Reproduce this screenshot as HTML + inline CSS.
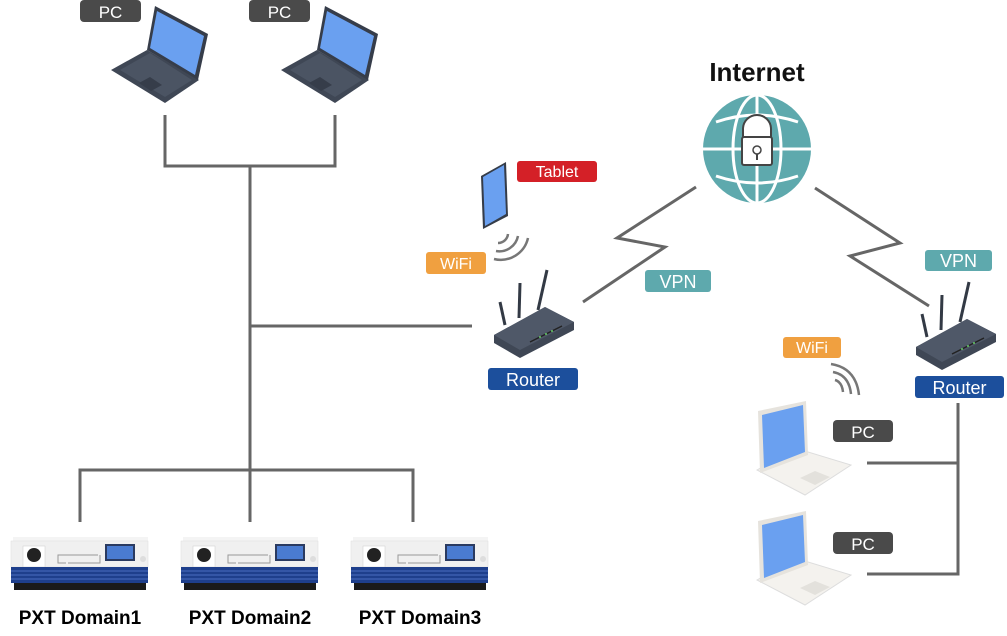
<!DOCTYPE html>
<html><head><meta charset="utf-8"><style>
html,body{margin:0;padding:0;background:#fff;width:1007px;height:636px;overflow:hidden}
svg{display:block}
text{font-family:"Liberation Sans",Arial,sans-serif}
</style></head><body>
<svg width="1007" height="636" viewBox="0 0 1007 636" xmlns="http://www.w3.org/2000/svg">
<defs>
<g id="dlap">
  <path d="M147,50 L111,70 L165,103 L199,80 Z" fill="#3f4755"/>
  <path d="M150,53 L120,70 L165,97 L192,80 Z" fill="#4b5463"/>
  <path d="M155,6 L208,34 L198,80 L147,50 Z" fill="#363d4a"/>
  <path d="M157,11 L204,36 L195,75 L150,48 Z" fill="#6aa0f0"/>
  <path d="M139,83 L150,77 L162,85 L151,91 Z" fill="#363d4a"/>
</g>
<g id="wlap">
  <path d="M757,470 L795,448 L851,465 L805,495 Z" fill="#f4f2ee" stroke="#ddd" stroke-width="1"/>
  <path d="M758,411 L806,401 L808,455 L760,473 Z" fill="#e6e3dd"/>
  <path d="M762,415 L803,405 L805,452 L764,468 Z" fill="#6aa0f0"/>
  <path d="M800,478 L815,471 L830,477 L815,485 Z" fill="#e3e1dc"/>
</g>
<g id="pxt">
  <rect x="13" y="537" width="135" height="6" fill="#f4f4f4"/>
  <rect x="11" y="541" width="137" height="26" fill="#f0f0f0" stroke="#ddd" stroke-width="0.5"/>
  <rect x="23" y="546" width="22" height="21" fill="#fff" stroke="#ccc" stroke-width="0.5"/>
  <circle cx="34" cy="555" r="7" fill="#222"/>
  <rect x="58" y="555" width="42" height="8" fill="none" stroke="#999" stroke-width="1" stroke-dasharray="40 2"/>
  <rect x="105" y="544" width="30" height="17" fill="#2a3a60"/>
  <rect x="107" y="546" width="26" height="13" fill="#4a7bd0"/>
  <circle cx="143" cy="559" r="3" fill="#ddd"/>
  <rect x="11" y="567" width="137" height="16" fill="#1e3f8c"/>
  <line x1="11" y1="571" x2="148" y2="571" stroke="#4a6cc0" stroke-width="1"/>
  <line x1="11" y1="575" x2="148" y2="575" stroke="#4a6cc0" stroke-width="1"/>
  <line x1="11" y1="579" x2="148" y2="579" stroke="#4a6cc0" stroke-width="1"/>
  <rect x="14" y="583" width="132" height="7" fill="#1a1a1a"/>
</g>
<g id="router">
  <line x1="500" y1="302" x2="505" y2="325" stroke="#333a45" stroke-width="3"/>
  <line x1="520" y1="283" x2="519" y2="318" stroke="#333a45" stroke-width="3"/>
  <line x1="547" y1="270" x2="538" y2="310" stroke="#333a45" stroke-width="3"/>
  <path d="M494,335 L545,307 L574,322 L574,330 L520,358 L494,343 Z" fill="#3f4755"/>
  <path d="M494,335 L545,307 L574,322 L520,350 Z" fill="#4f5868"/>
  <line x1="530" y1="342" x2="562" y2="326" stroke="#222" stroke-width="1.5"/>
  <circle cx="540" cy="337" r="1" fill="#6c6"/><circle cx="546" cy="334" r="1" fill="#6c6"/><circle cx="552" cy="331" r="1" fill="#6c6"/>
</g>
</defs>

<g stroke="#666" stroke-width="3" fill="none">
  <path d="M165,115 V166 H335 V115"/>
  <path d="M250,166 V470"/>
  <path d="M250,326 H472"/>
  <path d="M80,522 V470 H413 V522"/>
  <path d="M250,470 V522"/>
  <path d="M583,302 L665,247 L617,238 L696,187"/>
  <path d="M815,188 L900,243 L850,256 L929,306"/>
  <path d="M958,403 V574 H867"/>
  <path d="M867,463 H958"/>
</g>

<use href="#dlap"/>
<use href="#dlap" x="170"/>
<rect x="80" y="0" width="61" height="22" rx="4" fill="#4a4a4a"/>
<text x="110.5" y="18" font-size="17" fill="#fff" text-anchor="middle">PC</text>
<rect x="249" y="0" width="61" height="22" rx="4" fill="#4a4a4a"/>
<text x="279.5" y="18" font-size="17" fill="#fff" text-anchor="middle">PC</text>

<use href="#pxt"/>
<use href="#pxt" x="170"/>
<use href="#pxt" x="340"/>
<text x="80" y="624" font-size="19" font-weight="bold" fill="#000" text-anchor="middle">PXT Domain1</text>
<text x="250" y="624" font-size="19" font-weight="bold" fill="#000" text-anchor="middle">PXT Domain2</text>
<text x="420" y="624" font-size="19" font-weight="bold" fill="#000" text-anchor="middle">PXT Domain3</text>

<!-- tablet -->
<path d="M481,176 L506,162 L508,216 L483,229 Z" fill="#353c48"/>
<path d="M483,177 L504,165 L506,214 L485,226 Z" fill="#6aa0f0"/>
<rect x="517" y="161" width="80" height="21" rx="3" fill="#d42027"/>
<text x="557" y="177" font-size="16" fill="#fff" text-anchor="middle">Tablet</text>
<g stroke="#777" stroke-width="2.5" fill="none">
  <path d="M498,243 A10,10 0 0 0 508,234"/>
  <path d="M496,251 A19,19 0 0 0 518,236"/>
  <path d="M494,259 A28,28 0 0 0 528,238"/>
</g>
<rect x="426" y="252" width="60" height="22" rx="3" fill="#f0a040"/>
<text x="456" y="269" font-size="16" fill="#fff" text-anchor="middle">WiFi</text>

<use href="#router"/>
<rect x="488" y="368" width="90" height="22" rx="3" fill="#1c4f9c"/>
<text x="533" y="386" font-size="18" fill="#fff" text-anchor="middle">Router</text>
<rect x="645" y="270" width="66" height="22" rx="3" fill="#5ea9ad"/>
<text x="678" y="288" font-size="18" fill="#fff" text-anchor="middle">VPN</text>

<!-- internet -->
<text x="757" y="81" font-size="26" font-weight="bold" fill="#111" text-anchor="middle">Internet</text>
<circle cx="757" cy="149" r="54" fill="#5ea9ad"/>
<g stroke="#fff" stroke-width="3" fill="none">
  <ellipse cx="757" cy="149" rx="24" ry="54"/>
  <line x1="757" y1="95" x2="757" y2="203"/>
  <line x1="703" y1="149" x2="811" y2="149"/>
  <path d="M716,122 Q757,108 798,122"/>
  <path d="M716,176 Q757,190 798,176"/>
</g>
<path d="M743,138 V129 a14,14 0 0 1 28,0 V138" fill="#fff" stroke="#444" stroke-width="2"/>
<rect x="742" y="137" width="30" height="28" rx="2" fill="#fff" stroke="#444" stroke-width="2"/>
<circle cx="757" cy="150" r="4" fill="none" stroke="#444" stroke-width="1.5"/>
<line x1="757" y1="154" x2="757" y2="160" stroke="#444" stroke-width="2"/>

<rect x="925" y="250" width="67" height="21" rx="3" fill="#5ea9ad"/>
<text x="958.5" y="267" font-size="18" fill="#fff" text-anchor="middle">VPN</text>
<use href="#router" x="422" y="12"/>
<rect x="915" y="376" width="89" height="22" rx="3" fill="#1c4f9c"/>
<text x="959.5" y="394" font-size="18" fill="#fff" text-anchor="middle">Router</text>

<rect x="783" y="337" width="58" height="21" rx="3" fill="#f0a040"/>
<text x="812" y="353" font-size="16" fill="#fff" text-anchor="middle">WiFi</text>
<g stroke="#777" stroke-width="2.5" fill="none">
  <path d="M835,380 Q842,382 843,392"/>
  <path d="M833,372 Q849,375 851,394"/>
  <path d="M831,364 Q856,368 859,395"/>
</g>

<use href="#wlap"/>
<use href="#wlap" y="110"/>
<rect x="833" y="420" width="60" height="22" rx="4" fill="#4a4a4a"/>
<text x="863" y="438" font-size="17" fill="#fff" text-anchor="middle">PC</text>
<rect x="833" y="532" width="60" height="22" rx="4" fill="#4a4a4a"/>
<text x="863" y="550" font-size="17" fill="#fff" text-anchor="middle">PC</text>
</svg>
</body></html>
